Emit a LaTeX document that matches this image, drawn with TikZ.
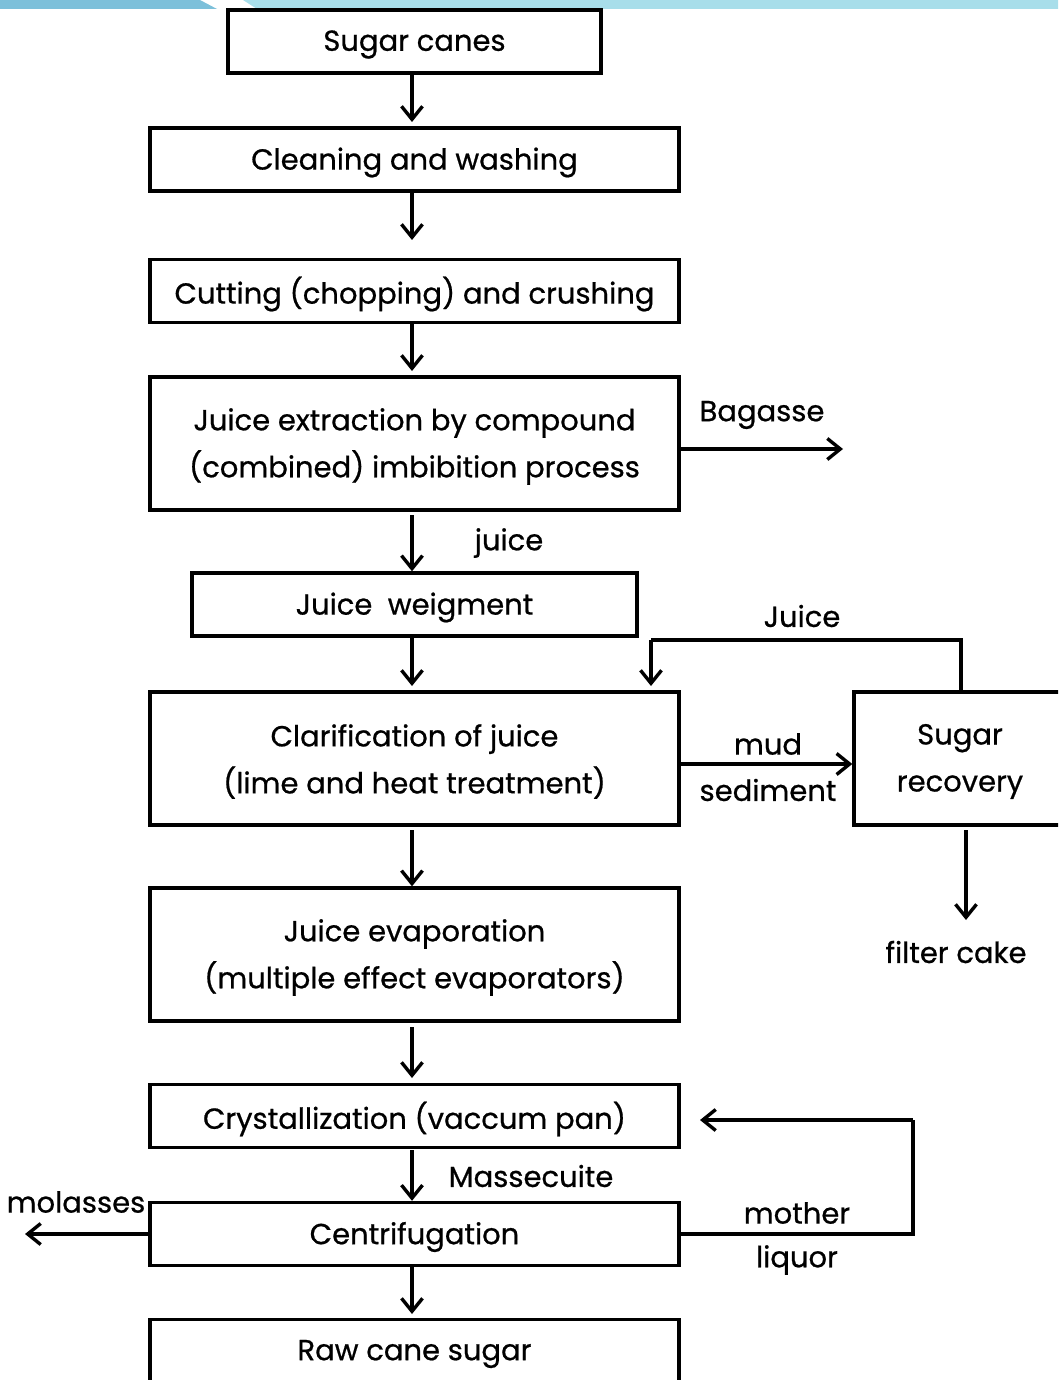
\documentclass[tikz,border=0pt]{standalone}
\usepackage{fontspec}
\setmainfont{Poppins}[BoldFont=Poppins,BoldFeatures={FakeBold=0.7}]
\usetikzlibrary{arrows.meta}
\definecolor{banddark}{RGB}{125,192,218}
\definecolor{bandlight}{RGB}{168,222,234}
\begin{document}
\begin{tikzpicture}[x=1pt,y=-1pt,
  txt/.style={font=\fontsize{29}{47}\selectfont\bfseries},
  box/.style={draw,line width=3.4pt,minimum height=63pt,inner sep=0pt},
  tall/.style={box,minimum height=133pt},
  lbl/.style={inner sep=0pt,txt,align=center,yshift=-3pt},
  arr/.style={line width=3.4pt,-{Straight Barb[length=13pt,width=21pt,line width=3.4pt]}},
  ln/.style={line width=3.4pt}]
\useasboundingbox (0,0) rectangle (1058,1380);
\clip (0,0) rectangle (1058,1380);
% top band
\fill[banddark] (0,0) -- (200,0) -- (217,9) -- (0,9) -- cycle;
\fill[bandlight] (243,0) -- (1058,0) -- (1058,9) -- (257,9) -- cycle;
% boxes
\node[box,minimum width=373pt] (b1) at (414.5,41.5) {};
\node[box,minimum width=529pt] (b2) at (414.5,159.5) {};
\node[box,minimum width=529pt] (b3) at (414.5,291) {};
\node[tall,minimum width=529pt] (b4) at (414.5,443.5) {};
\node[box,minimum width=445pt] (b5) at (414.5,604.5) {};
\node[tall,minimum width=529pt] (b6) at (414.5,758.5) {};
\node[tall,minimum width=212pt] (b7) at (960,758.5) {};
\node[tall,minimum width=529pt] (b8) at (414.5,954.5) {};
\node[box,minimum width=529pt] (b9) at (414.5,1116) {};
\node[box,minimum width=529pt] (b10) at (414.5,1234) {};
\node[box,minimum width=529pt] (b11) at (414.5,1351) {};
% box texts
\node[lbl] (t1) at (b1) {Sugar canes};
\node[lbl] (t2) at (b2) {Cleaning and washing};
\node[lbl] (t3) at (b3) {Cutting (chopping) and crushing};
\node[lbl] (t4) at (b4) {Juice extraction by compound\\(combined) imbibition process};
\node[lbl] (t5) at (b5) {Juice\ \ weigment};
\node[lbl] (t6) at (b6) {Clarification of juice\\(lime and heat treatment)};
\node[lbl] (t7) at (b7) {Sugar\\recovery};
\node[lbl] (t8) at (b8) {Juice evaporation\\(multiple effect evaporators)};
\node[lbl] (t9) at (b9) {Crystallization (vaccum pan)};
\node[lbl] (t10) at (b10) {Centrifugation};
\node[lbl] (t11) at (b11) {Raw cane sugar};
% main arrows
\draw[arr] (b1.south -| 412,0) -- (412,122);
\draw[arr] (b2.south -| 412,0) -- (412,240);
\draw[arr] (b3.south -| 412,0) -- (412,371);
\draw[arr] (412,515) -- (b5.north -| 412,0);
\draw[arr] (b5.south -| 412,0) -- (412,686);
\draw[arr] (412,830) -- (b8.north -| 412,0);
\draw[arr] (412,1027) -- (412,1078);
\draw[arr] (412,1150) -- (b10.north -| 412,0);
\draw[arr] (b10.south -| 412,0) -- (412,1314);
% side flows
\coordinate (bag) at (843,449);
\draw[arr] (b4.east |- bag) -- (bag);
\node[lbl] (tbag) at (762,412) {Bagasse};
\node[lbl] (tjuice) at (509,540) {juice};
\coordinate (jr) at (961,640);
\coordinate (jl) at (651,640);
\coordinate (je) at (651,686);
\draw[ln] (b7.north -| jr) -- (jr) -- (jl);
\draw[arr] (jl) -- (je);
\node[lbl] (tJuice) at (802,613) {Juice};
\draw[arr] (b6.east |- 0,764) -- (b7.west |- 0,764);
\node[lbl] (tmud) at (768,741) {mud};
\node[lbl] (tsed) at (768,787) {sediment};
\coordinate (fc) at (966,920);
\draw[arr] (966,830) -- (fc);
\node[lbl] (tfc) at (956,949) {filter cake};
\coordinate (ml1) at (913,1234);
\coordinate (ml2) at (913,1120);
\coordinate (ml3) at (700,1120);
\draw[ln] (b10.east) -- (ml1) -- (ml2);
\draw[arr] (ml2) -- (ml3);
\node[lbl] (tmo) at (797,1210) {mother};
\node[lbl] (tli) at (797,1257) {liquor};
\coordinate (mol) at (25,1234);
\draw[arr] (b10.west) -- (mol);
\node[lbl] (tmol) at (76,1199) {molasses};
\node[lbl] (tmas) at (531,1173) {Massecuite};
\end{tikzpicture}
\end{document}
